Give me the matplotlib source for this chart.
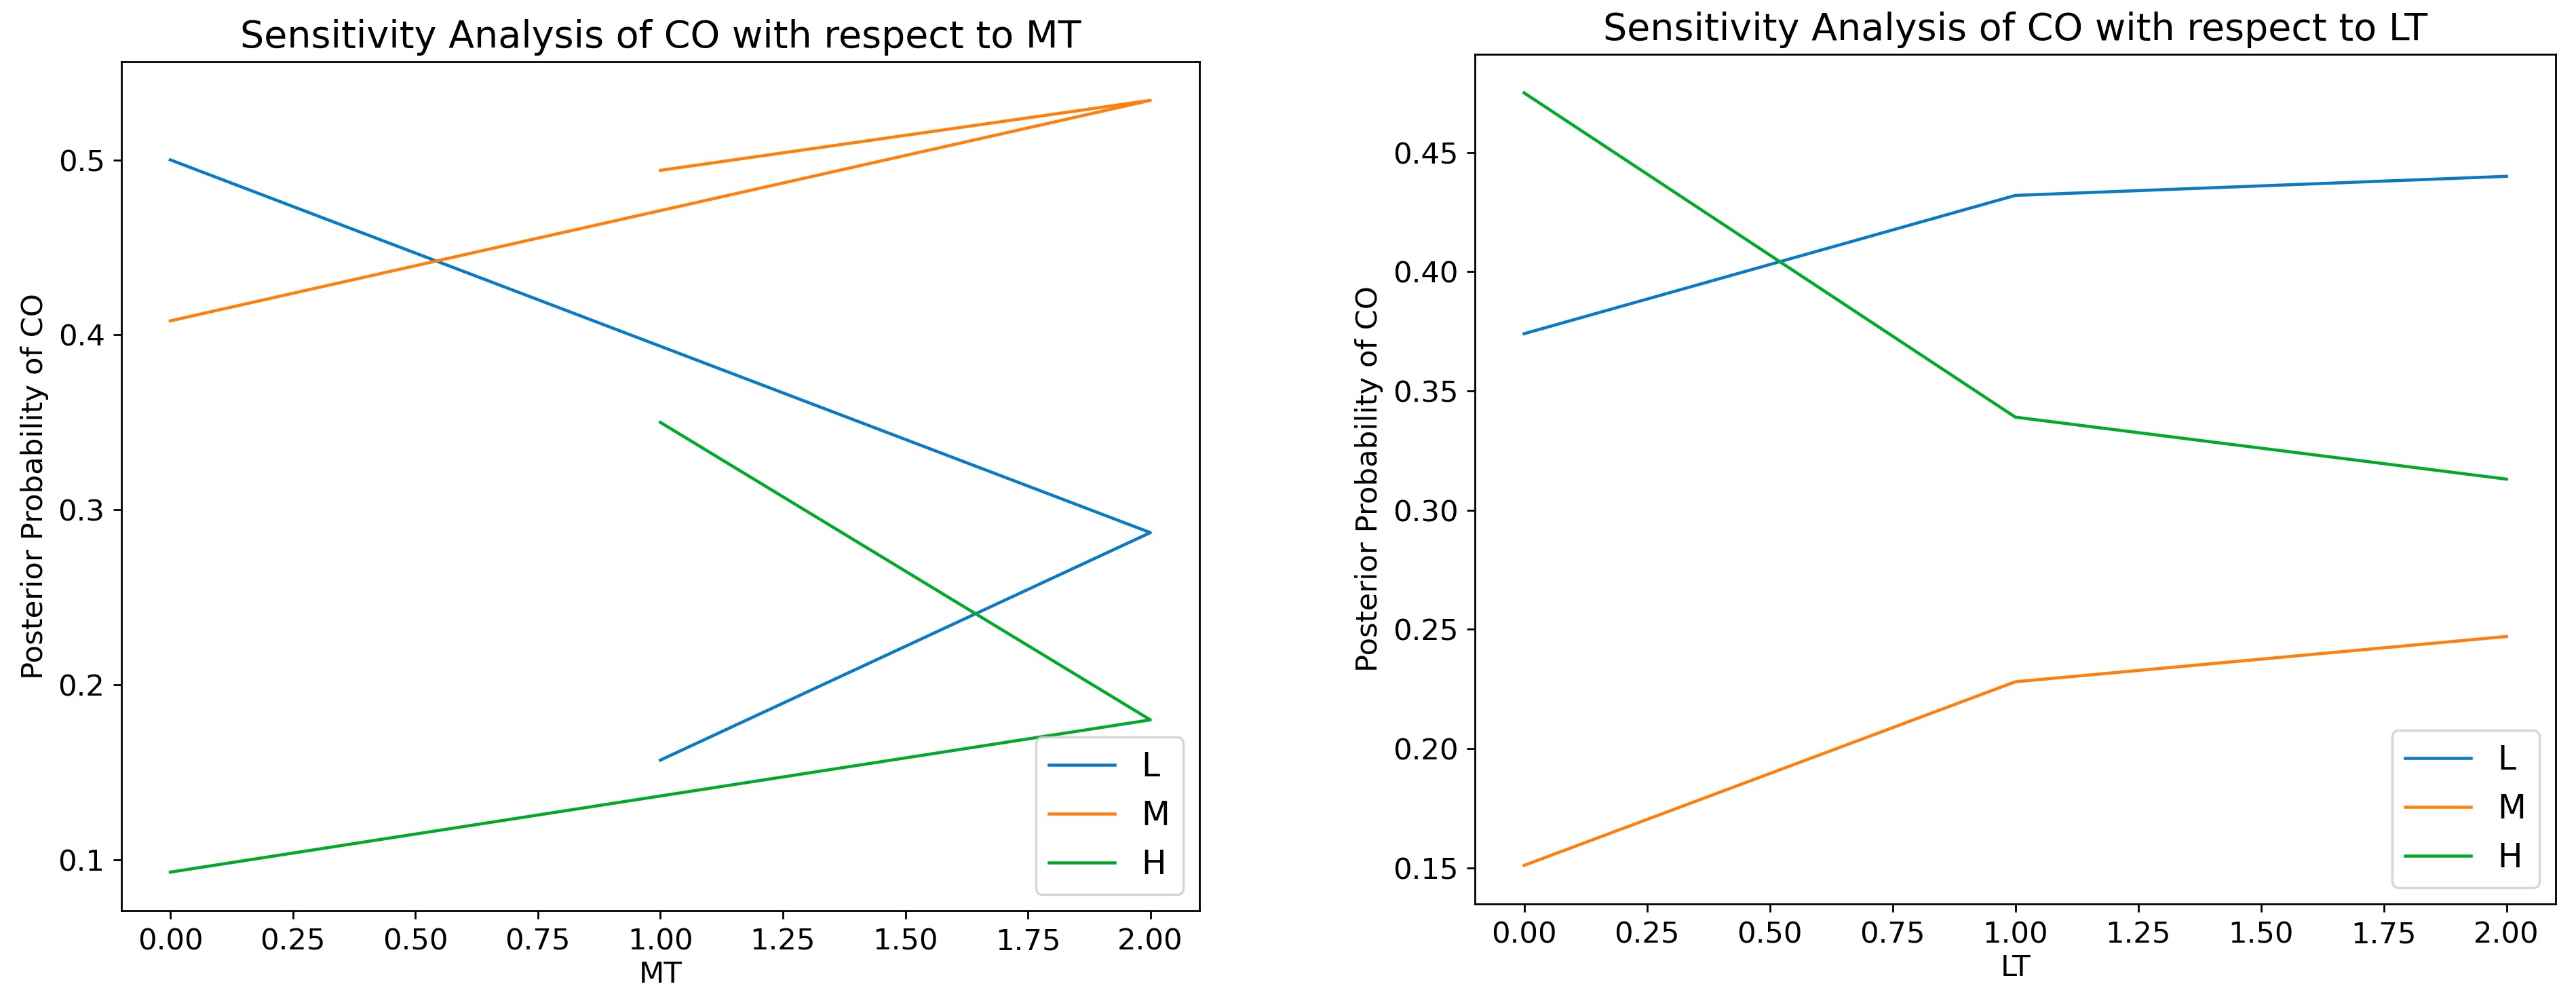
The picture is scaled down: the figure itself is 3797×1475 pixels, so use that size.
import matplotlib
matplotlib.use("Agg")
import matplotlib.pyplot as plt

# MT states were plotted in the order 0, 2, 1 in the original
mt_states = [0, 2, 1]
mt_L = [0.500, 0.287, 0.157]
mt_M = [0.408, 0.534, 0.494]
mt_H = [0.093, 0.180, 0.350]

lt_states = [0, 1, 2]
lt_L = [0.374, 0.432, 0.440]
lt_M = [0.151, 0.228, 0.247]
lt_H = [0.475, 0.339, 0.313]

labels = ['L', 'M', 'H']
colors = ['#0a7ac4', '#ff7f0e', '#00aa28']

fig = plt.figure(figsize=(15.188, 5.9), dpi=250)
ax1 = fig.add_axes([0.0471, 0.0902, 0.4185, 0.8481])
ax2 = fig.add_axes([0.5726, 0.0969, 0.4195, 0.8489])


def draw(ax, x, series, var):
    for y, lab, c in zip(series, labels, colors):
        ax.plot(x, y, label=lab, color=c, linewidth=1.3)
    ax.set_title('Sensitivity Analysis of CO with respect to ' + var, fontsize=16)
    ax.set_xlabel(var, fontsize=12.5, labelpad=2)
    ax.set_ylabel('Posterior Probability of CO', fontsize=12.5)
    ax.tick_params(labelsize=12.5)
    ax.legend(loc='lower right', fontsize=14)


draw(ax1, mt_states, [mt_L, mt_M, mt_H], 'MT')
draw(ax2, lt_states, [lt_L, lt_M, lt_H], 'LT')

fig.savefig('out.png', dpi=250)
